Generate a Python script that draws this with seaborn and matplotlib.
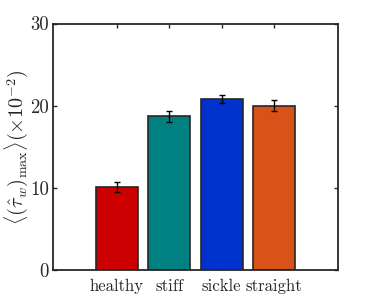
import matplotlib
matplotlib.use("Agg")
import matplotlib.pyplot as plt
import seaborn as sns
import pandas as pd

categories = ["healthy", "stiff", "sickle", "straight"]
values = [10.1, 18.7, 20.8, 20.0]
errors = [0.55, 0.7, 0.45, 0.7]
colors = ["#CC0000", "#008080", "#0033CC", "#D95319"]

sns.set_theme(style="white")
plt.rcParams["font.family"] = ["cmr10", "DejaVu Serif"]
plt.rcParams["mathtext.fontset"] = "cm"
plt.rcParams["axes.formatter.use_mathtext"] = True

df = pd.DataFrame({"cat": categories, "val": values})

fig = plt.figure(figsize=(3.74, 3.05), dpi=100)
ax = fig.add_axes([53/374, 1 - 270/305, (338-53)/374, (270-23.5)/305])

sns.barplot(data=df, x="cat", y="val", hue="cat", palette=colors, legend=False,
            width=0.8, edgecolor="#262626", linewidth=1.2, ax=ax, errorbar=None,
            saturation=1)
ax.errorbar(range(len(categories)), values, yerr=errors, fmt="none",
            ecolor="black", elinewidth=1.0, capsize=2, capthick=1.0)

ax.set_xlim(-1.22, 4.22)
ax.set_ylim(0, 30)
ax.set_yticks([0, 10, 20, 30])
ax.set_yticklabels(["0", "10", "20", "30"], fontsize=13.5)
ax.set_xticks(range(len(categories)))
ax.set_xticklabels(categories, fontsize=12)
ax.set_xlabel("")
ax.set_ylabel(r"$\langle(\hat{\tau}_w)_{\max}\rangle(\times 10^{-2})$", fontsize=14.5,
              va="center", ha="center")
ax.yaxis.set_label_coords(-0.128, 0.5)

for s in ax.spines.values():
    s.set_visible(True)
    s.set_color("#262626")
    s.set_linewidth(1.3)
ax.tick_params(direction="in", length=3, width=1, color="#262626",
               top=True, right=True, bottom=True, left=True, pad=3)
ax.tick_params(axis="x", pad=6)

fig.savefig("out.png", dpi=100)
